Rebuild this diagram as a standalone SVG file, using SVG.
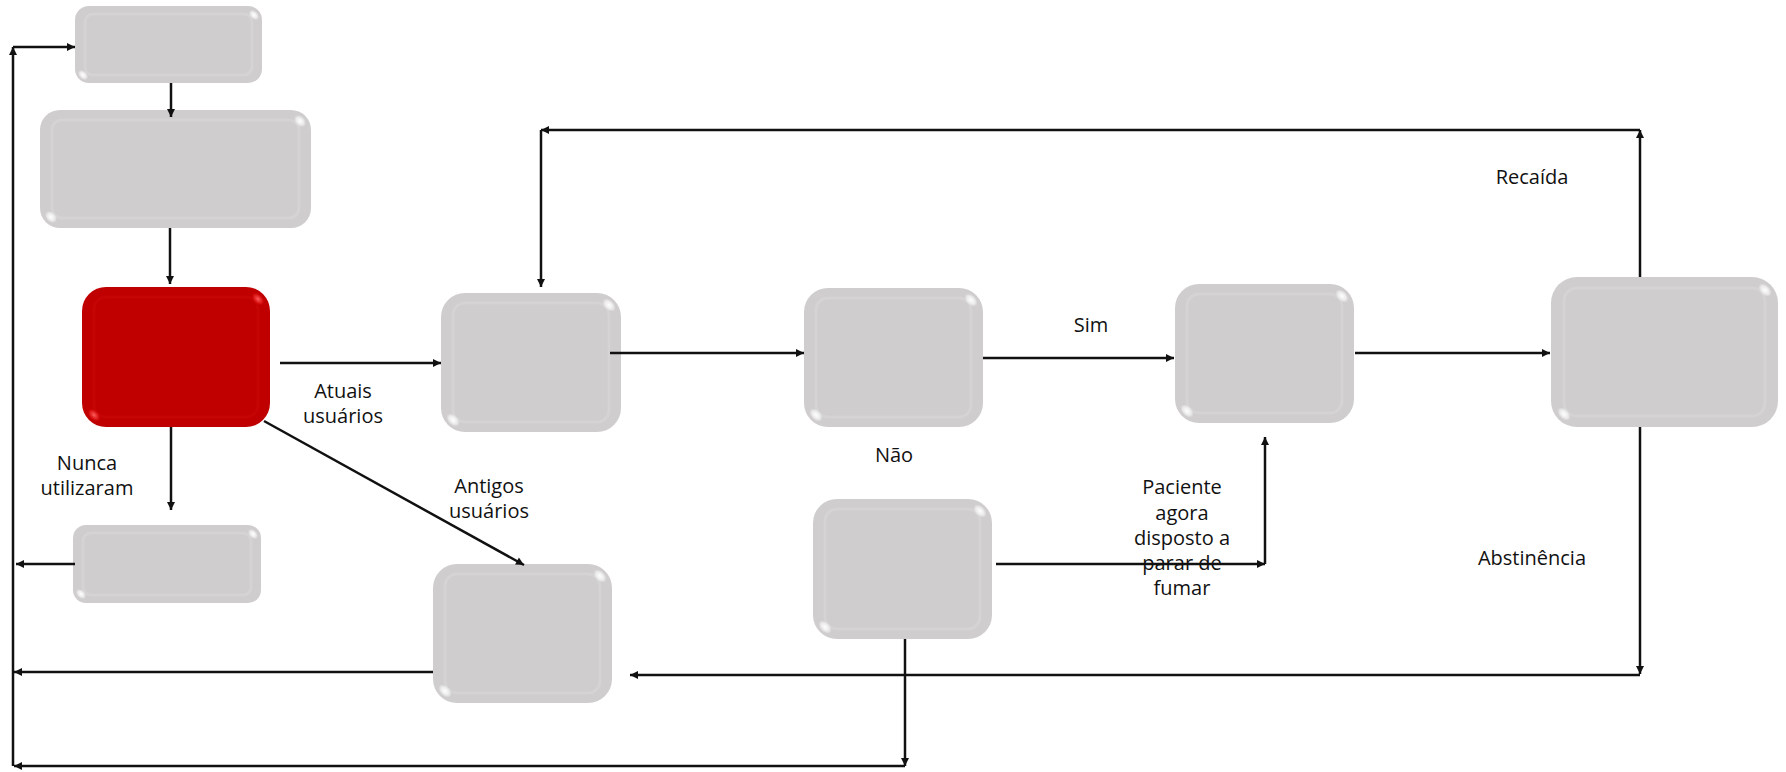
<svg xmlns="http://www.w3.org/2000/svg" width="1786" height="772" viewBox="0 0 1786 772">
<style>
.box{fill:#cfcdce}
.red{fill:#c00000}
.inner{fill:none;stroke:#d7d5d6;stroke-width:3;opacity:0.7}
.innerR{fill:none;stroke:#c80606;stroke-width:3;opacity:0.7}
.spot{fill:url(#shine)}
.spotR{fill:url(#shineR)}
.c{fill:none;stroke:#111;stroke-width:2.5}
.lbl{font-family:"Open Sans","Noto Sans","DejaVu Sans",sans-serif;font-size:20px;fill:#111;text-anchor:middle}
</style>
<defs>
<radialGradient id="shine"><stop offset="0" stop-color="#fff" stop-opacity="1"/><stop offset="0.6" stop-color="#fff" stop-opacity="0.6"/><stop offset="1" stop-color="#fff" stop-opacity="0"/></radialGradient>
<radialGradient id="shineR"><stop offset="0" stop-color="#ff6060" stop-opacity="1"/><stop offset="0.6" stop-color="#f03030" stop-opacity="0.6"/><stop offset="1" stop-color="#e00000" stop-opacity="0"/></radialGradient>
<marker id="ah" viewBox="0 0 10 10" refX="10" refY="5" markerWidth="9" markerHeight="8" markerUnits="userSpaceOnUse" orient="auto"><path d="M0,0 L10,5 L0,10 Z" fill="#111"/></marker>
</defs>

<g id="node-a">
<rect class="box" x="75" y="6" width="187" height="77" rx="14"/>
<rect class="inner" x="85" y="14" width="167" height="61" rx="8"/>
<ellipse class="spot" cx="254" cy="15" rx="6" ry="4" transform="rotate(45 254 15)"/>
<ellipse class="spot" cx="83" cy="75" rx="6" ry="4" transform="rotate(45 83 75)"/>
</g>
<g id="node-b">
<rect class="box" x="40" y="110" width="271" height="118" rx="20"/>
<rect class="inner" x="52" y="120" width="247" height="98" rx="10"/>
<ellipse class="spot" cx="300" cy="121" rx="7" ry="5" transform="rotate(45 300 121)"/>
<ellipse class="spot" cx="51" cy="217" rx="7" ry="5" transform="rotate(45 51 217)"/>
</g>
<g id="node-c">
<rect class="red" x="82" y="287" width="188" height="140" rx="24"/>
<rect class="innerR" x="94" y="297" width="164" height="120" rx="12"/>
<ellipse class="spotR" cx="258" cy="299" rx="8" ry="5" transform="rotate(45 258 299)"/>
<ellipse class="spotR" cx="94" cy="415" rx="8" ry="5" transform="rotate(45 94 415)"/>
</g>
<g id="node-d">
<rect class="box" x="441" y="293" width="180" height="139" rx="24"/>
<rect class="inner" x="453" y="303" width="156" height="119" rx="12"/>
<ellipse class="spot" cx="609" cy="305" rx="8" ry="5" transform="rotate(45 609 305)"/>
<ellipse class="spot" cx="453" cy="420" rx="8" ry="5" transform="rotate(45 453 420)"/>
</g>
<g id="node-e">
<rect class="box" x="73" y="525" width="188" height="78" rx="13"/>
<rect class="inner" x="83" y="533" width="168" height="62" rx="8"/>
<ellipse class="spot" cx="253" cy="534" rx="6" ry="4" transform="rotate(45 253 534)"/>
<ellipse class="spot" cx="81" cy="594" rx="6" ry="4" transform="rotate(45 81 594)"/>
</g>
<g id="node-f">
<rect class="box" x="433" y="564" width="179" height="139" rx="24"/>
<rect class="inner" x="445" y="574" width="155" height="119" rx="12"/>
<ellipse class="spot" cx="600" cy="576" rx="8" ry="5" transform="rotate(45 600 576)"/>
<ellipse class="spot" cx="445" cy="691" rx="8" ry="5" transform="rotate(45 445 691)"/>
</g>
<g id="node-h">
<rect class="box" x="804" y="288" width="179" height="139" rx="24"/>
<rect class="inner" x="816" y="298" width="155" height="119" rx="12"/>
<ellipse class="spot" cx="971" cy="300" rx="8" ry="5" transform="rotate(45 971 300)"/>
<ellipse class="spot" cx="816" cy="415" rx="8" ry="5" transform="rotate(45 816 415)"/>
</g>
<g id="node-i">
<rect class="box" x="813" y="499" width="179" height="140" rx="24"/>
<rect class="inner" x="825" y="509" width="155" height="120" rx="12"/>
<ellipse class="spot" cx="980" cy="511" rx="8" ry="5" transform="rotate(45 980 511)"/>
<ellipse class="spot" cx="825" cy="627" rx="8" ry="5" transform="rotate(45 825 627)"/>
</g>
<g id="node-g">
<rect class="box" x="1175" y="284" width="179" height="139" rx="24"/>
<rect class="inner" x="1187" y="294" width="155" height="119" rx="12"/>
<ellipse class="spot" cx="1342" cy="296" rx="8" ry="5" transform="rotate(45 1342 296)"/>
<ellipse class="spot" cx="1187" cy="411" rx="8" ry="5" transform="rotate(45 1187 411)"/>
</g>
<g id="node-j">
<rect class="box" x="1551" y="277" width="227" height="150" rx="26"/>
<rect class="inner" x="1564" y="288" width="201" height="128" rx="13"/>
<ellipse class="spot" cx="1765" cy="290" rx="8" ry="5" transform="rotate(45 1765 290)"/>
<ellipse class="spot" cx="1564" cy="414" rx="8" ry="5" transform="rotate(45 1564 414)"/>
</g>

<g id="connectors">
<path class="c" d="M171,83 L171,117" marker-end="url(#ah)"/>
<path class="c" d="M170,228 L170,284" marker-end="url(#ah)"/>
<path class="c" d="M280,363 L441,363" marker-end="url(#ah)"/>
<path class="c" d="M171,427 L171,510" marker-end="url(#ah)"/>
<path class="c" d="M75,564 L16,564" marker-end="url(#ah)"/>
<path class="c" d="M264,421 L524,565" marker-end="url(#ah)"/>
<path class="c" d="M610,353 L804,353" marker-end="url(#ah)"/>
<path class="c" d="M983,358 L1174,358" marker-end="url(#ah)"/>
<path class="c" d="M1355,353 L1550,353" marker-end="url(#ah)"/>
<path class="c" d="M1640,277 L1640,130" marker-end="url(#ah)"/>
<path class="c" d="M1640,130 L541,130" marker-end="url(#ah)"/>
<path class="c" d="M541,130 L541,287" marker-end="url(#ah)"/>
<path class="c" d="M1640,427 L1640,674" marker-end="url(#ah)"/>
<path class="c" d="M1640,675 L630,675" marker-end="url(#ah)"/>
<path class="c" d="M433,672 L14,672" marker-end="url(#ah)"/>
<path class="c" d="M996,564 L1265,564" marker-end="url(#ah)"/>
<path class="c" d="M1265,564 L1265,437" marker-end="url(#ah)"/>
<path class="c" d="M905,639 L905,766" marker-end="url(#ah)"/>
<path class="c" d="M905,766 L14,766" marker-end="url(#ah)"/>
<path class="c" d="M13,766 L13,47" marker-end="url(#ah)"/>
<path class="c" d="M13,47 L75,47" marker-end="url(#ah)"/>
</g>

<g id="labels">
<text class="lbl" x="343" y="398">Atuais</text>
<text class="lbl" x="343" y="423">usuários</text>
<text class="lbl" x="87" y="470">Nunca</text>
<text class="lbl" x="87" y="495">utilizaram</text>
<text class="lbl" x="489" y="493">Antigos</text>
<text class="lbl" x="489" y="518">usuários</text>
<text class="lbl" x="894" y="462">Não</text>
<text class="lbl" x="1091" y="332">Sim</text>
<text class="lbl" x="1182" y="494">Paciente</text>
<text class="lbl" x="1182" y="520">agora</text>
<text class="lbl" x="1182" y="545">disposto a</text>
<text class="lbl" x="1182" y="570">parar de</text>
<text class="lbl" x="1182" y="595">fumar</text>
<text class="lbl" x="1532" y="184">Recaída</text>
<text class="lbl" x="1532" y="565">Abstinência</text>
</g>
</svg>
